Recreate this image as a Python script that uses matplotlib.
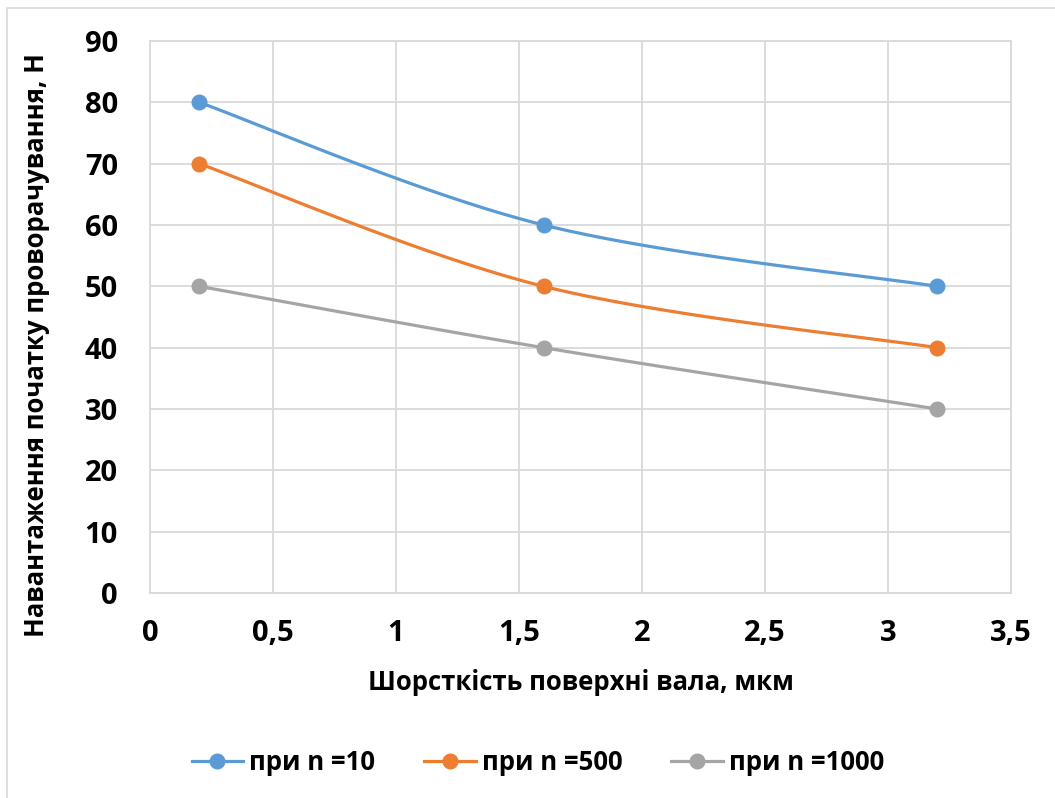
import numpy as np
import matplotlib
matplotlib.use("Agg")
import matplotlib.pyplot as plt
from matplotlib.patches import Rectangle

x_vals = [0.2, 1.6, 3.2]
series_names = ["при n =10", "при n =500", "при n =1000"]
y_n10 = [80, 60, 50]
y_n500 = [70, 50, 40]
y_n1000 = [50, 40, 30]
colors = ["#5B9BD5", "#ED7D31", "#A5A5A5"]
x_label = "Шорсткість поверхні вала, мкм"
y_label = "Навантаження початку проворачування, Н"
x_ticks = [0, 0.5, 1, 1.5, 2, 2.5, 3, 3.5]
x_tick_labels = ["0", "0,5", "1", "1,5", "2", "2,5", "3", "3,5"]
y_ticks = [0, 10, 20, 30, 40, 50, 60, 70, 80, 90]

FONT = ["Open Sans", "DejaVu Sans"]
plt.rcParams["font.family"] = FONT
plt.rcParams["font.weight"] = "bold"


def smooth(xs, ys, n=60):
    P = np.column_stack([xs, ys]).astype(float)
    ext = np.vstack([P[0], P, P[-1]])
    out = []
    t = np.linspace(0, 1, n)[:, None]
    for i in range(1, len(ext) - 2):
        p0, p1, p2, p3 = ext[i - 1], ext[i], ext[i + 1], ext[i + 2]
        c1 = p1 + (p2 - p0) / 6.0
        c2 = p2 - (p3 - p1) / 6.0
        seg = ((1 - t) ** 3) * p1 + 3 * ((1 - t) ** 2) * t * c1 + 3 * (1 - t) * t ** 2 * c2 + t ** 3 * p2
        out.append(seg if i == 1 else seg[1:])
    B = np.vstack(out)
    return B[:, 0], B[:, 1]


W, H = 1055, 798
fig = plt.figure(figsize=(W / 100, H / 100), dpi=100)
fig.patch.set_facecolor("white")

# chart frame
fig.patches.append(Rectangle((7 / W, -0.05), 1.2, (H - 8) / H + 0.05, transform=fig.transFigure,
                             fill=False, edgecolor="#D9D9D9", linewidth=1.2))

left, right, top, bottom = 150, 1011, 41, 593
ax = fig.add_axes([left / W, 1 - bottom / H, (right - left) / W, (bottom - top) / H])

for ys, c, name in zip([y_n10, y_n500, y_n1000], colors, series_names):
    sx, sy = smooth(x_vals, ys)
    ax.plot(sx, sy, color=c, linewidth=2.3, solid_capstyle="round", zorder=3)
    ax.plot(x_vals, ys, linestyle="none", marker="o", markersize=10.5, color=c, zorder=4)
    ax.plot([], [], color=c, linewidth=2.3, marker="o", markersize=10.5, label=name)

ax.set_xlim(0, 3.5)
ax.set_ylim(0, 90)
ax.set_xticks(x_ticks)
ax.set_xticklabels(x_tick_labels)
ax.set_yticks(y_ticks)
ax.grid(True, color="#D9D9D9", linewidth=1.3)
ax.set_axisbelow(True)
for s in ax.spines.values():
    s.set_color("#D9D9D9")
    s.set_linewidth(1.3)
ax.tick_params(length=0, labelsize=21, colors="black")
ax.tick_params(axis="x", pad=19)
ax.tick_params(axis="y", pad=23)
for lab in ax.get_xticklabels() + ax.get_yticklabels():
    lab.set_fontweight("bold")

fig.text(581 / W, 1 - 683 / H, x_label, ha="center", va="center", fontsize=18.5, fontweight="bold")
fig.text(37 / W, 1 - 345 / H, y_label, ha="center", va="center", rotation=90, fontsize=18.5, fontweight="bold")

fig.legend(loc="center", bbox_to_anchor=(538 / W, 1 - 762 / H), ncol=3, frameon=False,
           prop={"size": 18.5, "weight": "bold"}, handlelength=2.0, columnspacing=1.9, handletextpad=0.25)

fig.savefig("out.png", dpi=100)
